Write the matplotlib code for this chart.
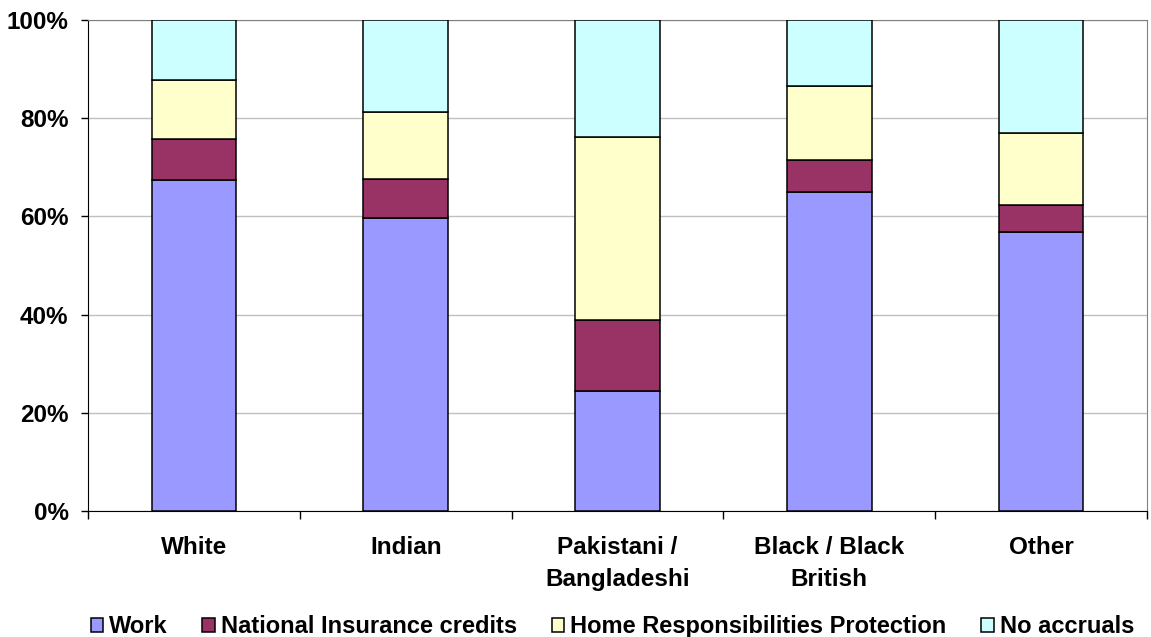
"""Stacked share of pension accrual type by ethnic group."""

import matplotlib.pyplot as plt
import numpy as np

plt.rcParams["font.family"] = ["Liberation Sans", "DejaVu Sans"]
plt.rcParams["font.weight"] = "bold"

categories = ["White", "Indian", "Pakistani /\nBangladeshi", "Black / Black\nBritish", "Other"]
series_names = ["Work", "National Insurance credits",
                "Home Responsibilities Protection", "No accruals"]
work = [67.4, 59.7, 24.5, 64.9, 56.8]
ni_credits = [8.4, 7.9, 14.4, 6.6, 5.6]
hrp = [11.9, 13.7, 37.2, 15.1, 14.6]
no_accruals = [12.3, 18.7, 23.9, 13.4, 23.0]
colors = ["#9999FF", "#993366", "#FFFFCC", "#CCFFFF"]
yticks = [0, 20, 40, 60, 80, 100]

FS = 17.5


def main():
    fig = plt.figure(figsize=(11.51, 6.37), dpi=100)
    ax = fig.add_axes([0.0765, 0.198, 0.92, 0.7705])

    x = np.arange(len(categories))
    bottom = np.zeros(len(categories))
    for name, vals, color in zip(series_names, [work, ni_credits, hrp, no_accruals], colors):
        ax.bar(x, vals, 0.4, bottom=bottom, color=color, edgecolor="black",
               linewidth=1.1, label=name, zorder=3)
        bottom += np.array(vals)

    ax.set_xlim(-0.5, len(categories) - 0.5)
    ax.set_ylim(0, 100)
    ax.set_yticks(yticks)
    ax.set_yticklabels([f"{v}%" for v in yticks])
    ax.yaxis.grid(True, color="#C0C0C0", linewidth=1.0, zorder=0)

    # category labels sit between boundary ticks
    ax.set_xticks(np.arange(len(categories) + 1) - 0.5)
    ax.set_xticklabels([])
    ax.set_xticks(x, minor=True)
    ax.set_xticklabels(categories, minor=True, fontsize=FS, fontweight="bold",
                       linespacing=1.5, va="top")
    ax.tick_params(axis="x", which="minor", length=0, pad=18)
    ax.tick_params(axis="x", which="major", length=6, width=1, direction="out")
    ax.tick_params(axis="y", length=5, width=1, pad=9, labelsize=FS)

    ax.spines["left"].set_color("black")
    ax.spines["bottom"].set_color("black")
    ax.spines["top"].set_color("#808080")
    ax.spines["right"].set_color("#808080")

    handles, labels = ax.get_legend_handles_labels()
    fig.legend(handles, labels, loc="lower center", bbox_to_anchor=(0.532, -0.035),
               ncol=4, frameon=False, handlelength=0.55,
               handleheight=0.55, handletextpad=0.25, columnspacing=1.45,
               prop={"weight": "bold", "size": 17})

    plt.savefig("out.png", dpi=100)


if __name__ == "__main__":
    main()
